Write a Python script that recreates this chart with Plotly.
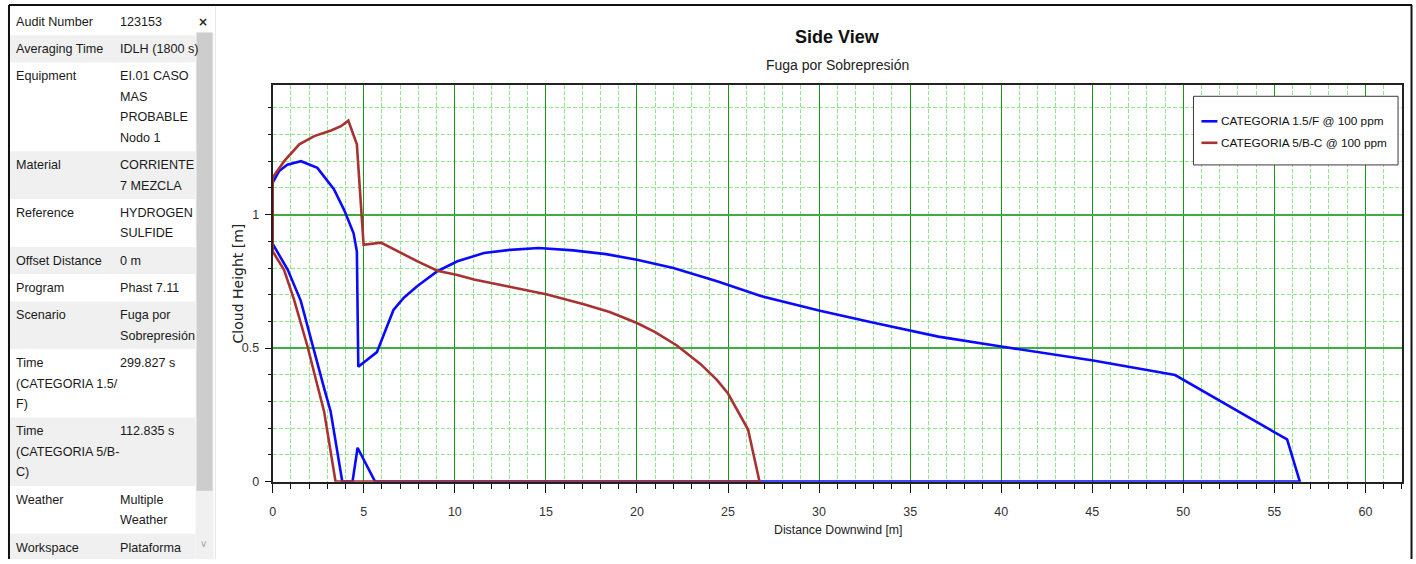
import plotly.graph_objects as go

W, H = 1416, 564

# Cloud outline for each weather category: upper edge out to the far end,
# back along the ground, then the lower edge back to the source.
cat_f_x = [0, 0.35, 0.8, 1.55, 2.45, 3.36, 3.93, 4.28, 4.44, 4.62, 4.70, 5.72, 6.63,
           7.2, 7.93, 9.04, 10.14, 11.6, 13.05, 14.6, 16.5, 18.3, 20.0, 22.0, 24.4,
           26.8, 30.05, 33.0, 36.55, 40.0, 45.05, 49.55, 55.7, 56.4,
           5.62, 4.66, 4.38, 3.82, 3.18, 2.82, 2.28, 1.54, 0.82, 0, 0]
cat_f_y = [1.12, 1.163, 1.187, 1.20, 1.175, 1.095, 1.016, 0.954, 0.93, 0.862, 0.43, 0.485, 0.643,
           0.689, 0.732, 0.788, 0.825, 0.856, 0.868, 0.875, 0.866, 0.852, 0.831, 0.80, 0.75,
           0.695, 0.64, 0.595, 0.543, 0.506, 0.454, 0.399, 0.158, 0,
           0, 0.127, 0, 0, 0.263, 0.35, 0.485, 0.677, 0.794, 0.89, 1.12]

cat_bc_x = [0, 0.64, 1.46, 2.28, 3.2, 3.75, 4.15, 4.62, 4.99, 5.94, 7.95, 9.04, 10.14,
            11.05, 13.0, 15.07, 17.08, 18.5, 20.0, 21.0, 22.19, 23.5, 24.4, 25.0, 26.1, 26.73,
            3.45, 2.82, 2.45, 1.90, 1.17, 0.62, 0, 0]
cat_bc_y = [1.139, 1.201, 1.263, 1.294, 1.315, 1.331, 1.352, 1.263, 0.887, 0.895, 0.825, 0.79, 0.774,
            0.757, 0.73, 0.701, 0.664, 0.635, 0.594, 0.56, 0.51, 0.44, 0.38, 0.33, 0.195, 0,
            0, 0.263, 0.361, 0.509, 0.682, 0.793, 0.862, 1.139]

series_names = ["CATEGORIA 1.5/F @ 100 ppm", "CATEGORIA 5/B-C @ 100 ppm"]
series_colors = ["#0a0aff", "#a83232"]

x_tick_vals = [0, 5, 10, 15, 20, 25, 30, 35, 40, 45, 50, 55, 60]
y_tick_vals = [0, 0.5, 1]
y_tick_text = ["0", "0.5", "1"]

chart_title = "Side View"
chart_subtitle = "Fuga por Sobrepresión"
x_title = "Distance Downwind [m]"
y_title = "Cloud Height [m]"

# Properties grid shown beside the chart
prop_labels = ["Audit Number", "Averaging Time", "Equipment", "Material", "Reference",
               "Offset Distance", "Program", "Scenario",
               ["Time", "(CATEGORIA 1.5/", "F)"], ["Time", "(CATEGORIA 5/B-", "C)"],
               "Weather", "Workspace"]
prop_values = ["123153", "IDLH (1800 s)", ["EI.01 CASO", "MAS", "PROBABLE", "Nodo 1"],
               ["CORRIENTE", "7 MEZCLA"], ["HYDROGEN", "SULFIDE"], "0 m", "Phast 7.11",
               ["Fuga por", "Sobrepresión"], "299.827 s", "112.835 s",
               ["Multiple", "Weather"], "Plataforma"]

SANS = "Liberation Sans, Arial, sans-serif"


def fx(p):
    return p / W


def fy(p):
    return 1 - p / H


fig = go.Figure()
for xs, ys, name, col in [(cat_f_x, cat_f_y, series_names[0], series_colors[0]),
                          (cat_bc_x, cat_bc_y, series_names[1], series_colors[1])]:
    fig.add_trace(go.Scatter(x=xs, y=ys, mode="lines", name=name, showlegend=False,
                             line=dict(color=col, width=2.6), hoverinfo="x+y+name"))

# plot area in pixels
PL, PR, PT, PB = 270.3, 1402.3, 86.0, 487.7
px_per_x = 18.25
px_per_y = 270.4

fig.update_layout(
    width=W, height=H,
    margin=dict(l=0, r=0, t=0, b=0),
    paper_bgcolor="white", plot_bgcolor="white",
    font=dict(family=SANS, size=12, color="#222"),
)

fig.update_xaxes(
    domain=[fx(PL), fx(PR)], range=[0, (PR - PL) / px_per_x],
    tickvals=x_tick_vals, ticks="outside", ticklen=9, tickwidth=1, tickcolor="#111",
    tickfont=dict(family=SANS, size=12.5, color="#333"), ticklabelstandoff=8,
    showline=True, linecolor="#222", linewidth=2, mirror=True,
    showgrid=True, gridcolor="#169a16", gridwidth=1,
    zeroline=False,
    minor=dict(dtick=1, tick0=0, ticks="outside", ticklen=5, tickcolor="#111",
               showgrid=True, gridcolor="#8fe68f", griddash="4px,2px", gridwidth=1),
)
fig.update_yaxes(
    domain=[fy(PB), fy(PT)], range=[0, (PB - PT) / px_per_y],
    tickvals=y_tick_vals, ticktext=y_tick_text,
    ticks="outside", ticklen=6, tickwidth=1, tickcolor="#111",
    tickfont=dict(family=SANS, size=12.5, color="#333"), ticklabelstandoff=3,
    showline=True, linecolor="#222", linewidth=2, mirror=True,
    showgrid=True, gridcolor="#3fae3f", gridwidth=2,
    zeroline=False,
    minor=dict(dtick=0.1, tick0=0, ticks="outside", ticklen=3, tickcolor="#111",
               showgrid=True, gridcolor="#8fe68f", griddash="4px,2px", gridwidth=1),
)

ann = []
shapes = []


def label(text, x, y, size, color="#1a1a1a", anchor="left", family=SANS, angle=0):
    ann.append(dict(text=text, x=fx(x), y=fy(y), xref="paper", yref="paper",
                    showarrow=False, xanchor=anchor, yanchor="middle", borderpad=0,
                    textangle=angle, font=dict(family=family, size=size, color=color)))


# titles
label("<b>%s</b>" % chart_title, 836, 37, 18, "#111", "center")
label(chart_subtitle, 836, 66, 14, "#222", "center")
label(x_title, 837, 537, 12.3, "#222", "center")
label(y_title, 235.5, 287, 14, "#222", "center", "DejaVu Sans, Verdana, sans-serif", -90)

# legend box with line samples
shapes.append(dict(type="rect", xref="paper", yref="paper",
                   x0=fx(1193), x1=fx(1398), y0=fy(97.5), y1=fy(167),
                   fillcolor="white", line=dict(color="#3a3a3a", width=1)))
for k, (name, col) in enumerate(zip(series_names, series_colors)):
    yy = 122.8 + 21.8 * k
    shapes.append(dict(type="line", xref="paper", yref="paper",
                       x0=fx(1201), x1=fx(1217), y0=fy(yy), y1=fy(yy),
                       line=dict(color=col, width=2.6)))
    label(name, 1220, yy, 11.8, "#111")

# outer frame
frame = dict(type="line", xref="paper", yref="paper", line=dict(color="#111", width=2))
shapes.append({**frame, "x0": fx(6), "x1": fx(1412), "y0": fy(5), "y1": fy(5)})
shapes.append({**frame, "x0": fx(6), "x1": fx(6), "y0": fy(5), "y1": fy(H + 2)})
shapes.append({**frame, "x0": fx(1411.5), "x1": fx(1411.5), "y0": fy(5), "y1": fy(H + 2)})


def as_lines(v):
    return v if isinstance(v, list) else [v]


# properties grid rows
LINE_STEP = 20.8
top = 8.0
for i, (lab, val) in enumerate(zip(prop_labels, prop_values)):
    ll, vl = as_lines(lab), as_lines(val)
    n = max(len(ll), len(vl))
    h = 6.8 + LINE_STEP * n
    shapes.append(dict(type="rect", xref="paper", yref="paper", layer="below",
                       x0=fx(7), x1=fx(193), y0=fy(top), y1=fy(min(top + h, H + 2)),
                       fillcolor="#ffffff" if i % 2 == 0 else "#f0f0f0", line=dict(width=0)))
    for col_x, lines in [(12, ll), (116, vl)]:
        for k, t in enumerate(lines):
            label(t, col_x, top + 14 + LINE_STEP * k, 12.6)
    top += h

# scroll bar column
shapes.append(dict(type="rect", xref="paper", yref="paper", layer="below",
                   x0=fx(193), x1=fx(211), y0=fy(33), y1=fy(H + 2),
                   fillcolor="#f0f0f0", line=dict(width=0)))
shapes.append(dict(type="rect", xref="paper", yref="paper", layer="below",
                   x0=fx(194), x1=fx(210), y0=fy(33), y1=fy(497),
                   fillcolor="#cdcdcd", line=dict(width=0)))
shapes.append(dict(type="line", xref="paper", yref="paper",
                   x0=fx(213), x1=fx(213), y0=fy(6), y1=fy(H + 2),
                   line=dict(color="#e6e6e6", width=1)))
label("<b>×</b>", 200, 22, 12, "#222", "center", "DejaVu Sans")
label("∨", 201, 550, 10, "#a8a8a8", "center", "DejaVu Sans")

fig.update_layout(annotations=ann, shapes=shapes)

fig.write_html("out.html")
